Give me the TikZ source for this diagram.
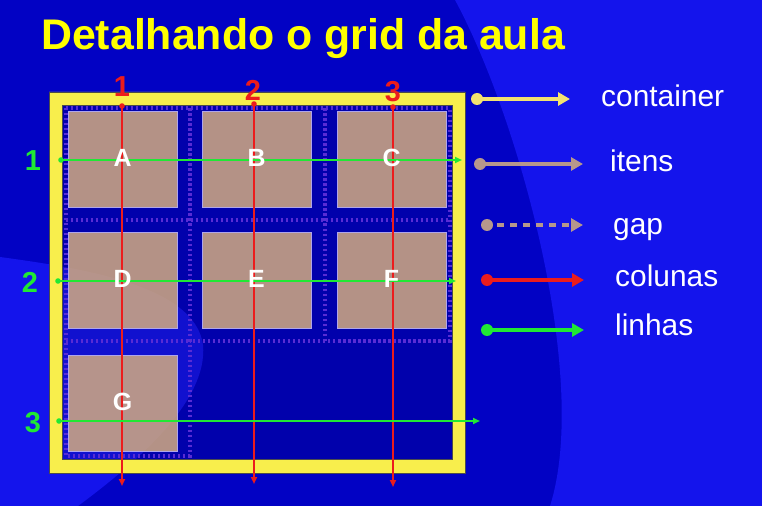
\documentclass[tikz,border=0pt]{standalone}
\usepackage{fontspec}
\setmainfont{Liberation Sans}
\usetikzlibrary{arrows.meta}
\definecolor{bgdark}{RGB}{2,2,196}
\definecolor{bglight}{RGB}{20,20,236}
\definecolor{frameyellow}{RGB}{248,238,76}
\definecolor{titleyellow}{RGB}{255,255,0}
\definecolor{itemtan}{RGB}{212,172,128}
\definecolor{itemedge}{RGB}{175,165,235}
\definecolor{gapviolet}{RGB}{88,44,212}
\definecolor{colred}{RGB}{236,28,28}
\definecolor{rowgreen}{RGB}{32,232,52}
\definecolor{legyellow}{RGB}{242,226,112}
\definecolor{legtan}{RGB}{182,152,140}
\begin{document}
\begin{tikzpicture}[x=1bp,y=-1bp,
  item/.style={draw=itemedge,line width=0.8bp,fill=itemtan,fill opacity=0.85,minimum width=109bp,minimum height=96bp,inner sep=0pt},
  letter/.style={text=white,font=\fontsize{25}{25}\selectfont\bfseries},
  colnum/.style={text=colred,font=\fontsize{29}{29}\selectfont\bfseries},
  rownum/.style={text=rowgreen,font=\fontsize{29}{29}\selectfont\bfseries},
  legtext/.style={anchor=base west,text=white,font=\fontsize{30}{30}\selectfont,inner sep=0pt},
  gapline/.style={gapviolet,line width=4bp,dash pattern=on 2.5bp off 2.5bp},
  colline/.style={colred,line width=1.8bp,-{Triangle[length=7bp,width=6bp]}},
  rowline/.style={rowgreen,line width=1.8bp,-{Triangle[length=7bp,width=6bp]}},
  legline/.style={line width=3.5bp,-{Triangle[length=12bp,width=13bp]}}]
\useasboundingbox (0,0) rectangle (762,506);
\fill[bgdark] (0,0) rectangle (762,506);
\fill[bglight] (455,0) .. controls (520,120) and (590,380) .. (550,506) -- (762,506) -- (762,0) -- cycle;
\fill[bglight] (0,257) .. controls (80,268) and (195,285) .. (203,345) .. controls (208,400) and (140,460) .. (78,506) -- (0,506) -- cycle;
\node[anchor=base west,inner sep=0pt,text=titleyellow,font=\fontsize{43}{43}\selectfont\bfseries] (title) at (41,50) {Detalhando o grid da aula};
\fill[frameyellow,even odd rule] (49,92) rectangle (465,473) (62,105) rectangle (452,459);
\fill[black,opacity=0.12] (62,105) rectangle (452,459);
\draw[black!70,line width=0.8bp] (49,92) rectangle (465,473);
\draw[black!70,line width=0.8bp] (62,105) rectangle (452,459);
\draw[gapline] (65.5,108.5) -- (449.5,108.5) -- (449.5,340.5) -- (189.5,340.5) -- (189.5,455.5) -- (65.5,455.5) -- cycle;
\draw[gapline] (189.5,108.5) -- (189.5,340.5);
\draw[gapline] (324.5,108.5) -- (324.5,340.5);
\draw[gapline] (65.5,220.5) -- (449.5,220.5);
\draw[gapline] (65.5,340.5) -- (189.5,340.5);
\foreach \name/\x/\y in {A/122.5/159,B/256.5/159,C/391.5/159,D/122.5/280.5,E/256.5/280.5,F/391.5/280.5,G/122.5/403}
  \node[item] (\name) at (\x,\y) {};
\foreach \n/\x/\yt/\yb in {1/122/106/486,2/254/104/484,3/393/107/487} {
  \coordinate (ct\n) at (\x,\yt);
  \coordinate (cb\n) at (\x,\yb);
  \fill[colred] (ct\n) circle (2.8bp);
  \draw[colline] (ct\n) -- (cb\n);
}
\foreach \n/\xl/\xr/\y in {1/61/462/160,2/58/456/281,3/59/480/421} {
  \coordinate (rl\n) at (\xl,\y);
  \coordinate (rr\n) at (\xr,\y);
  \fill[rowgreen] (rl\n) circle (2.8bp);
  \draw[rowline] (rl\n) -- (rr\n);
}
\foreach \name in {A,B,C,D,E,F,G}
  \node[letter] (l\name) at ([yshift=1.5bp]\name.center) {\name};
\node[colnum] (cn1) at (122,87) {1};
\node[colnum] (cn2) at (253,90) {2};
\node[colnum] (cn3) at (393,91.5) {3};
\node[rownum] (rn1) at (33,161) {1};
\node[rownum] (rn2) at (30,282) {2};
\node[rownum] (rn3) at (33,423) {3};
\coordinate (lg1a) at (477,99);  \coordinate (lg1b) at (570,99);
\coordinate (lg2a) at (480,164); \coordinate (lg2b) at (583,164);
\coordinate (lg3a) at (487,225); \coordinate (lg3b) at (583,225);
\coordinate (lg4a) at (487,280); \coordinate (lg4b) at (584,280);
\coordinate (lg5a) at (487,330); \coordinate (lg5b) at (584,330);
\fill[legyellow] (lg1a) circle (6bp);
\draw[legline,legyellow] (lg1a) -- (lg1b);
\fill[legtan] (lg2a) circle (6bp);
\draw[legline,legtan] (lg2a) -- (lg2b);
\fill[legtan] (lg3a) circle (6bp);
\draw[legline,legtan,dash pattern=on 7bp off 6bp] ([xshift=10bp]lg3a) -- (lg3b);
\fill[colred] (lg4a) circle (6bp);
\draw[legline,colred] (lg4a) -- (lg4b);
\fill[rowgreen] (lg5a) circle (6bp);
\draw[legline,rowgreen] (lg5a) -- (lg5b);
\node[legtext] (tcont) at (601,107) {container};
\node[legtext] (titens) at (610,172) {itens};
\node[legtext] (tgap) at (613,235) {gap};
\node[legtext] (tcol) at (615,287) {colunas};
\node[legtext] (tlin) at (615,335) {linhas};
\end{tikzpicture}
\end{document}
